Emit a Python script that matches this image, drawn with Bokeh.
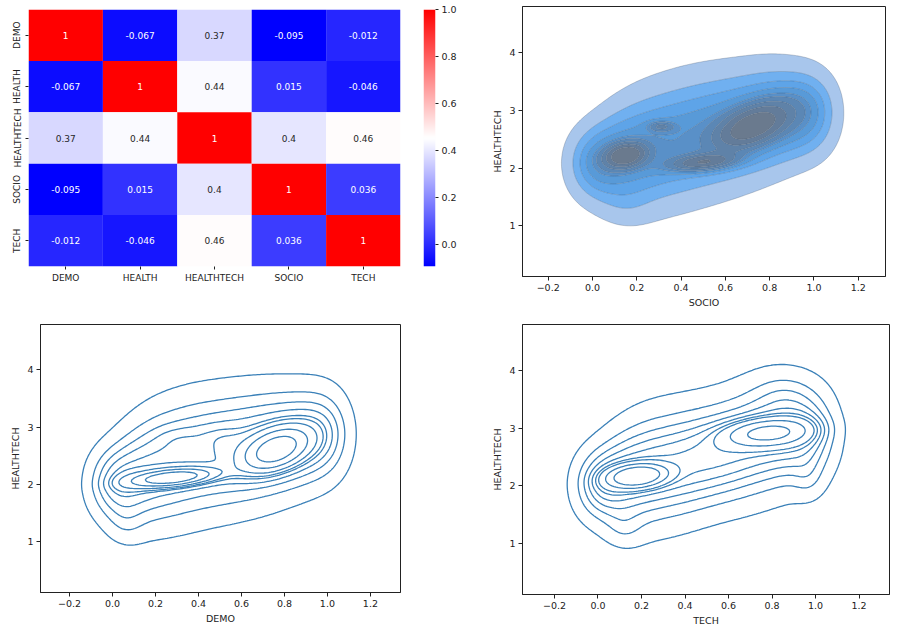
import numpy as np
from bokeh.plotting import figure
from bokeh.layouts import row, column
from bokeh.models import (ColumnDataSource, FactorRange, Range1d, LinearAxis, FixedTicker,
                          CustomJSTickFormatter, LinearColorMapper)
from bokeh.core.properties import value
from bokeh.embed import file_html
from bokeh.resources import INLINE

# ---------------- data ----------------
labels = ["DEMO", "HEALTH", "HEALTHTECH", "SOCIO", "TECH"]
corr = [
    [1.0, -0.067, 0.37, -0.095, -0.012],
    [-0.067, 1.0, 0.44, 0.015, -0.046],
    [0.37, 0.44, 1.0, 0.4, 0.46],
    [-0.095, 0.015, 0.4, 1.0, 0.036],
    [-0.012, -0.046, 0.46, 0.036, 1.0],
]
cbar_ticks = [0.0, 0.2, 0.4, 0.6, 0.8, 1.0]

kde_xticks = [-0.2, 0.0, 0.2, 0.4, 0.6, 0.8, 1.0, 1.2]
kde_yticks = [1, 2, 3, 4]
props = [0.05, 0.1556, 0.2611, 0.3667, 0.4722, 0.5778, 0.6833, 0.7889, 0.8944, 1.0]

# density: a band of columns along x plus local peaks
band_x = [0.0, 0.1, 0.2, 0.3, 0.4, 0.5, 0.6, 0.7, 0.8, 0.9, 1.0]
band_sx = 0.08

socio_band_y = [2.08, 2.18, 2.28, 2.38, 2.48, 2.58, 2.66, 2.75, 2.85, 2.92, 2.95]
socio_band_sy = [0.42, 0.55, 0.62, 0.65, 0.66, 0.65, 0.63, 0.60, 0.57, 0.52, 0.48]
socio_band_w = [0.85, 0.9, 1.0, 1.0, 1.0, 1.0, 1.0, 1.0, 1.0, 0.9, 0.85]
socio_pk_x = [0.15, 0.72, 0.31, 0.50, 0.15]
socio_pk_y = [2.22, 2.72, 2.72, 2.10, 1.35]
socio_pk_sx = [0.06, 0.11, 0.04, 0.10, 0.08]
socio_pk_sy = [0.14, 0.27, 0.06, 0.10, 0.25]
socio_pk_r = [0.2, 0.5, 0.0, 0.3, 0.0]
socio_pk_w = [0.6, 1.6, 0.06, 0.5, 0.08]

demo_band_y = [2.02, 2.16, 2.30, 2.40, 2.50, 2.56, 2.62, 2.68, 2.75, 2.82, 2.88]
demo_band_sy = [0.42, 0.57, 0.64, 0.66, 0.66, 0.65, 0.64, 0.62, 0.58, 0.55, 0.52]
demo_band_w = [0.85, 0.9, 1.0, 1.0, 1.0, 1.0, 1.0, 1.0, 1.0, 0.9, 0.85]
demo_pk_x = [0.28, 0.76, 0.30, 0.50, 0.06]
demo_pk_y = [2.12, 2.60, 2.82, 2.86, 1.30]
demo_pk_sx = [0.12, 0.10, 0.07, 0.07, 0.06]
demo_pk_sy = [0.10, 0.25, 0.14, 0.14, 0.25]
demo_pk_r = [0.4, 0.4, 0.0, 0.0, 0.0]
demo_pk_w = [0.8, 1.4, 0.035, 0.035, 0.09]

tech_band_y = [2.02, 2.14, 2.24, 2.32, 2.40, 2.50, 2.60, 2.72, 2.84, 2.90, 2.90]
tech_band_sy = [0.42, 0.55, 0.62, 0.63, 0.62, 0.60, 0.60, 0.62, 0.62, 0.58, 0.52]
tech_band_w = [0.85, 0.9, 1.0, 1.0, 1.0, 1.0, 1.0, 1.0, 1.0, 1.0, 0.85]
tech_pk_x = [0.18, 0.78, 0.97, 0.12, 0.85]
tech_pk_y = [2.17, 2.92, 2.10, 1.25, 3.65]
tech_pk_sx = [0.08, 0.12, 0.05, 0.06, 0.10]
tech_pk_sy = [0.12, 0.15, 0.25, 0.22, 0.25]
tech_pk_r = [0.2, 0.2, 0.0, 0.0, 0.0]
tech_pk_w = [0.9, 1.0, 0.08, 0.09, 0.12]

socio_xlim, socio_ylim = [-0.316, 1.323], [0.12, 4.80]
demo_xlim, demo_ylim = [-0.335, 1.34], [0.12, 4.79]
tech_xlim, tech_ylim = [-0.347, 1.34], [0.115, 4.80]

FONT = "DejaVu Sans"
TXT = "#222222"

# ---------------- helpers ----------------
def bwr(t):
    if t < 0.5:
        r = g = 2 * t; b = 1.0
    else:
        r = 1.0; g = b = 2 - 2 * t
    return r, g, b

def to_hex(c):
    return "#%02x%02x%02x" % tuple(int(round(v * 255)) for v in c)

def lum(c):
    lin = [v / 12.92 if v <= 0.03928 else ((v + 0.055) / 1.055) ** 2.4 for v in c]
    return 0.2126 * lin[0] + 0.7152 * lin[1] + 0.0722 * lin[2]

palette = [to_hex(bwr(i / 255)) for i in range(256)]
vals = np.array(corr)
vmin, vmax = float(vals.min()), float(vals.max())
mapper = LinearColorMapper(palette=palette, low=vmin, high=vmax)

def density(band_y, band_sy, band_w, pk_x, pk_y, pk_sx, pk_sy, pk_r, pk_w):
    xg = np.linspace(-0.8, 1.8, 260)
    yg = np.linspace(-1.5, 6.5, 280)
    X, Y = np.meshgrid(xg, yg)
    Z = np.zeros_like(X)
    comps = [(a, b, band_sx, s2, 0.0, w) for a, b, s2, w in zip(band_x, band_y, band_sy, band_w)]
    comps += list(zip(pk_x, pk_y, pk_sx, pk_sy, pk_r, pk_w))
    for a, b, s1, s2, r, w in comps:
        dx = (X - a) / s1
        dy = (Y - b) / s2
        q = (dx * dx - 2 * r * dx * dy + dy * dy) / (1 - r * r)
        Z += w * np.exp(-q / 2) / (2 * np.pi * s1 * s2 * np.sqrt(1 - r * r))
    return xg, yg, Z

def iso_levels(Z):
    v = np.sort(Z.ravel())[::-1]
    cum = np.cumsum(v) / v.sum()
    idx = np.searchsorted(cum, 1 - np.asarray(props))
    lv = np.take(v, idx, mode="clip").astype(float)
    lv[-1] = Z.max() * 1.001
    return lv

xfmt = CustomJSTickFormatter(code="return (tick < -1e-9 ? '\u2212' : '') + Math.abs(tick).toFixed(1);")

def style_axes(p, size="9.5px"):
    for ax in p.axis:
        ax.major_label_text_font = FONT
        ax.major_label_text_font_size = size
        ax.major_label_text_color = TXT
        ax.axis_label_text_font = FONT
        ax.axis_label_text_font_size = size
        ax.axis_label_text_font_style = "normal"
        ax.axis_label_text_color = TXT
        ax.major_tick_in = 0
        ax.major_tick_out = 4
        ax.minor_tick_out = 0
        ax.minor_tick_in = 0
        ax.major_tick_line_color = TXT
        ax.axis_line_color = TXT
        ax.major_label_standoff = 3
        ax.axis_label_standoff = 3

def kde_fig(w, h, lb, rb, tb, bb, xlim, ylim, xlabel):
    p = figure(width=w, height=h, x_range=Range1d(*xlim), y_range=Range1d(*ylim),
               output_backend="svg", toolbar_location=None,
               min_border_left=lb, min_border_right=rb, min_border_top=tb, min_border_bottom=bb)
    p.xgrid.visible = False
    p.ygrid.visible = False
    p.outline_line_color = TXT
    p.outline_line_width = 1
    p.xaxis.ticker = FixedTicker(ticks=kde_xticks)
    p.xaxis.formatter = xfmt
    p.yaxis.ticker = FixedTicker(ticks=kde_yticks)
    p.xaxis.axis_label = xlabel
    p.yaxis.axis_label = "HEALTHTECH"
    style_axes(p)
    return p

# ---------------- heatmap ----------------
xs, ys, vs, txt, tcol = [], [], [], [], []
for i, rl in enumerate(labels):
    for j, cl in enumerate(labels):
        v = corr[i][j]
        xs.append(cl); ys.append(rl); vs.append(v)
        txt.append(format(v, ".2g"))
        t = (v - vmin) / (vmax - vmin)
        tcol.append("#262626" if lum(bwr(t)) > 0.408 else "#ffffff")
src = ColumnDataSource(dict(x=xs, y=ys, v=vs, t=txt, tc=tcol))

pa = figure(width=410, height=310, x_range=FactorRange(*labels), y_range=FactorRange(*labels[::-1]),
            output_backend="svg", toolbar_location=None,
            min_border_left=28, min_border_right=10, min_border_top=9, min_border_bottom=44)
pa.rect(x="x", y="y", width=1, height=1, source=src,
        fill_color={"field": "v", "transform": mapper}, line_color=None)
pa.text(x="x", y="y", text="t", source=src, text_color="tc", text_align="center",
        text_baseline="middle", text_font_size=value("9px"), text_font=value(FONT))
pa.outline_line_color = None
pa.xgrid.visible = False
pa.ygrid.visible = False
style_axes(pa, "9px")
for ax in pa.axis:
    ax.axis_line_color = None
    ax.major_tick_out = 3
pa.yaxis.major_label_orientation = "vertical"

# colorbar
pc = figure(width=60, height=310, x_range=Range1d(0, 1), y_range=Range1d(vmin, vmax),
            output_backend="svg", toolbar_location=None, x_axis_location=None, y_axis_location=None,
            min_border_left=13, min_border_right=35, min_border_top=9, min_border_bottom=44)
grad = np.linspace(vmin, vmax, 256).reshape(-1, 1)
pc.image(image=[grad], x=0, y=vmin, dw=1, dh=vmax - vmin, color_mapper=mapper)
pc.outline_line_color = None
pc.xgrid.visible = False
pc.ygrid.visible = False
cax = LinearAxis(ticker=FixedTicker(ticks=cbar_ticks),
                 formatter=CustomJSTickFormatter(code="return tick.toFixed(1);"))
pc.add_layout(cax, "right")
style_axes(pc, "9.5px")
cax.axis_line_color = None
cax.major_tick_out = 3

# ---------------- KDE: SOCIO (filled) ----------------
pb = kde_fig(431, 310, 52, 16, 6, 33, socio_xlim, socio_ylim, "SOCIO")
xg, yg, Z = density(socio_band_y, socio_band_sy, socio_band_w,
                    socio_pk_x, socio_pk_y, socio_pk_sx, socio_pk_sy, socio_pk_r, socio_pk_w)
fills = ["#a8c6ec", "#70b0f0", "#5ea4e8", "#589ad8", "#5990c8", "#5b87b5", "#5f82a8", "#637c9a", "#6a7a8e"]
pb.contour(x=xg, y=yg, z=Z, levels=list(iso_levels(Z)), fill_color=fills,
           line_color="#34465a", line_alpha=0.35, line_width=0.7)

# ---------------- KDE: DEMO ----------------
pd_ = kde_fig(460, 318, 40, 60, 14, 36, demo_xlim, demo_ylim, "DEMO")
xg, yg, Z = density(demo_band_y, demo_band_sy, demo_band_w,
                    demo_pk_x, demo_pk_y, demo_pk_sx, demo_pk_sy, demo_pk_r, demo_pk_w)
pd_.contour(x=xg, y=yg, z=Z, levels=list(iso_levels(Z)[:-1]), line_color="#3a80b8", line_width=1.3)

# ---------------- KDE: TECH ----------------
pt = kde_fig(441, 318, 62, 12, 14, 30, tech_xlim, tech_ylim, "TECH")
xg, yg, Z = density(tech_band_y, tech_band_sy, tech_band_w,
                    tech_pk_x, tech_pk_y, tech_pk_sx, tech_pk_sy, tech_pk_r, tech_pk_w)
pt.contour(x=xg, y=yg, z=Z, levels=list(iso_levels(Z)[:-1]), line_color="#3a80b8", line_width=1.3)

layout = column(row(column(pa), column(pc), column(pb)), row(column(pd_), column(pt)))
open("out.html", "w").write(file_html(layout, INLINE))
